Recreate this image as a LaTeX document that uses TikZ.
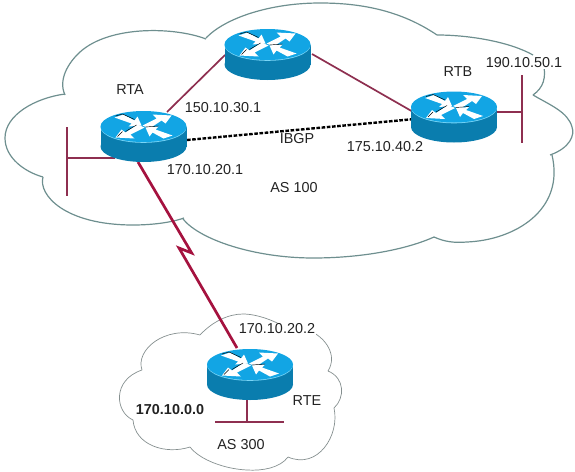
\documentclass[tikz,border=0pt]{standalone}
\usepackage{fontspec}
\setmainfont{Liberation Sans}
\definecolor{cloudbig}{HTML}{6E8F8F}
\definecolor{cloudsmall}{HTML}{858F8F}
\definecolor{wan}{HTML}{A5123F}
\definecolor{lan}{HTML}{8E2F50}
\definecolor{rtop}{HTML}{12A5E4}
\definecolor{rbody}{HTML}{0A7DAE}
\definecolor{redge}{HTML}{7AD6F7}
\definecolor{ink}{HTML}{222222}
\tikzset{
  x=1pt,y=-1pt,
  bigcloud/.style={draw=cloudbig,line width=1.2pt},
  smallcloud/.style={draw=cloudsmall,line width=0.7pt},
  wanline/.style={draw=wan,line width=2.7pt,line join=miter},
  lanline/.style={draw=lan,line width=1.7pt},
  ibgpline/.style={draw=black,line width=2.4pt,dash pattern=on 3.6pt off 1.6pt},
  lab/.style={font=\fontsize{14.4}{17}\selectfont,text=ink,inner sep=0pt},
  labw/.style={lab,fill=white,inner sep=1pt},
  routerbox/.style={minimum width=86pt,minimum height=51pt,inner sep=0pt,draw=none},
  routericon/.pic={
    \fill[rbody] (-43,-10) rectangle (43,10);
    \fill[rbody] (0,10) ellipse[x radius=43,y radius=15.5];
    \fill[redge] (0,-9.2) ellipse[x radius=43,y radius=15.5];
    \fill[rtop] (0,-10) ellipse[x radius=43,y radius=15.5];
    \begin{scope}[shift={(0,-10)}]
      \fill[white] (-1,-1) -- (13,-8) -- (9,-12) -- (28,-11) -- (22,-3) -- (18,-6) -- (6,2) -- cycle;
      \fill[white] (1,1) -- (-13,8) -- (-9,12) -- (-28,11) -- (-22,3) -- (-18,6) -- (-6,-2) -- cycle;
      \fill[white] (-29,-9) -- (-20,-12) -- (-9,-6) -- (-6,-10) -- (-2,-1) -- (-15,0) -- (-12,-3) -- cycle;
      \fill[white] (29,9) -- (20,12) -- (9,6) -- (6,10) -- (2,1) -- (15,0) -- (12,3) -- cycle;
      \draw[black,line width=0.45pt] (-28,-10.5) -- (-21,-12.5) -- (-9,-7);
      \draw[black,line width=0.45pt] (-26,10) -- (-21,5) (-18,5) -- (-7,-1.5);
      \draw[black,line width=0.45pt] (2,0.5) -- (15,-0.5);
    \end{scope}
  }
}
\begin{document}
\begin{tikzpicture}
\useasboundingbox (0,0) rectangle (575,471);
% big cloud
\draw[bigcloud] (206,39) .. controls (175,27) and (110,25) .. (80,52) .. controls (68,63) and (58,80) .. (65,95);
\draw[bigcloud] (65,94) .. controls (35,98) and (5,115) .. (5,138) .. controls (5,158) and (25,172) .. (43,177);
\draw[bigcloud] (43,177) .. controls (38,195) and (65,225) .. (133,225) .. controls (150,225) and (170,223) .. (184,218);
\draw[bigcloud] (183,219) .. controls (200,240) and (255,258) .. (313,258) .. controls (360,258) and (405,250) .. (434,237);
\draw[bigcloud] (434,237) .. controls (445,242) and (455,243) .. (467,242) .. controls (515,240) and (565,210) .. (552,155);
\draw[bigcloud] (550,155) .. controls (570,148) and (575,135) .. (572,127) .. controls (568,112) and (550,105) .. (533,95);
\draw[bigcloud] (533,95) .. controls (543,88) and (547,78) .. (543,62);
\draw[bigcloud] (533,55) .. controls (510,42) and (470,35) .. (437,35);
\draw[bigcloud] (437,35) .. controls (400,10) and (360,3) .. (320,3) .. controls (270,3) and (225,18) .. (206,38);
% small cloud
\draw[smallcloud] (200,335) .. controls (212,322) and (228,314) .. (243,314) .. controls (258,314) and (280,322) .. (295,334);
\draw[smallcloud] (312,332) .. controls (325,338) and (338,355) .. (328,371);
\draw[smallcloud] (328,371) .. controls (345,378) and (345,398) .. (334,408);
\draw[smallcloud] (334,408) .. controls (340,435) and (318,470) .. (288,457);
\draw[smallcloud] (288,457) .. controls (280,468) and (262,471) .. (247,470) .. controls (225,469) and (200,460) .. (190,447);
\draw[smallcloud] (190,447) .. controls (165,455) and (135,445) .. (133,420);
\draw[smallcloud] (133,420) .. controls (115,412) and (112,380) .. (142,370);
\draw[smallcloud] (142,370) .. controls (135,350) and (165,325) .. (200,335);
% routers (nodes)
\node[routerbox] (rta) at (143.5,136.5) {};
\node[routerbox] (rmid) at (267.5,54.5) {};
\node[routerbox] (rtb) at (454,117) {};
\node[routerbox] (rte) at (250,374.5) {};
% connector ends
\coordinate (a1) at (167,112); \coordinate (m1) at (225,55);
\coordinate (m2) at (312,54); \coordinate (b1) at (415,113);
\coordinate (a2) at (187,140); \coordinate (b2) at (415,119);
\coordinate (a3) at (115,158); \coordinate (lanA) at (67,158);
\coordinate (lanAt) at (67,127); \coordinate (lanAb) at (67,196);
\coordinate (b3) at (497,112); \coordinate (lanB) at (522,112);
\coordinate (lanBt) at (522,75); \coordinate (lanBb) at (522,143);
\coordinate (e1) at (247,397); \coordinate (lanE) at (247,422);
\coordinate (lanEl) at (215,422); \coordinate (lanEr) at (284,422);
\coordinate (a4) at (138,162); \coordinate (z1) at (191.7,253); \coordinate (z2) at (179,248); \coordinate (e2) at (237,348);
% connectors
\draw[lanline] (a1) -- (m1);
\draw[lanline] (m2) -- (b1);
\draw[ibgpline] (a2) -- (b2);
\draw[lanline] (a3) -- (lanA);
\draw[lanline] (lanAt) -- (lanAb);
\draw[lanline] (b3) -- (lanB);
\draw[lanline] (lanBt) -- (lanBb);
\draw[lanline] (e1) -- (lanE);
\draw[lanline] (lanEl) -- (lanEr);
\draw[wanline] (a4) -- (z1) -- (z2) -- (e2);
% router icons
\pic at (rta) {routericon};
\pic at (rmid) {routericon};
\pic at (rtb) {routericon};
\pic at (rte) {routericon};
% labels
\node[lab] (t1) at (130,90) {RTA};
\node[lab] (t2) at (223,108) {150.10.30.1};
\node[lab] (t3) at (205,170) {170.10.20.1};
\node[lab] (t4) at (297,139) {IBGP};
\node[lab] (t5) at (294,188) {AS 100};
\node[lab] (t6) at (385,147) {175.10.40.2};
\node[lab] (t7) at (458,72) {RTB};
\node[labw] (t8) at (524,63) {190.10.50.1};
\node[labw] (t9) at (277,329) {170.10.20.2};
\node[lab,font=\fontsize{14.4}{17}\selectfont\bfseries] (t10) at (170,410) {170.10.0.0};
\node[lab] (t11) at (307,401) {RTE};
\node[lab] (t12) at (241,445) {AS 300};
\end{tikzpicture}
\end{document}
